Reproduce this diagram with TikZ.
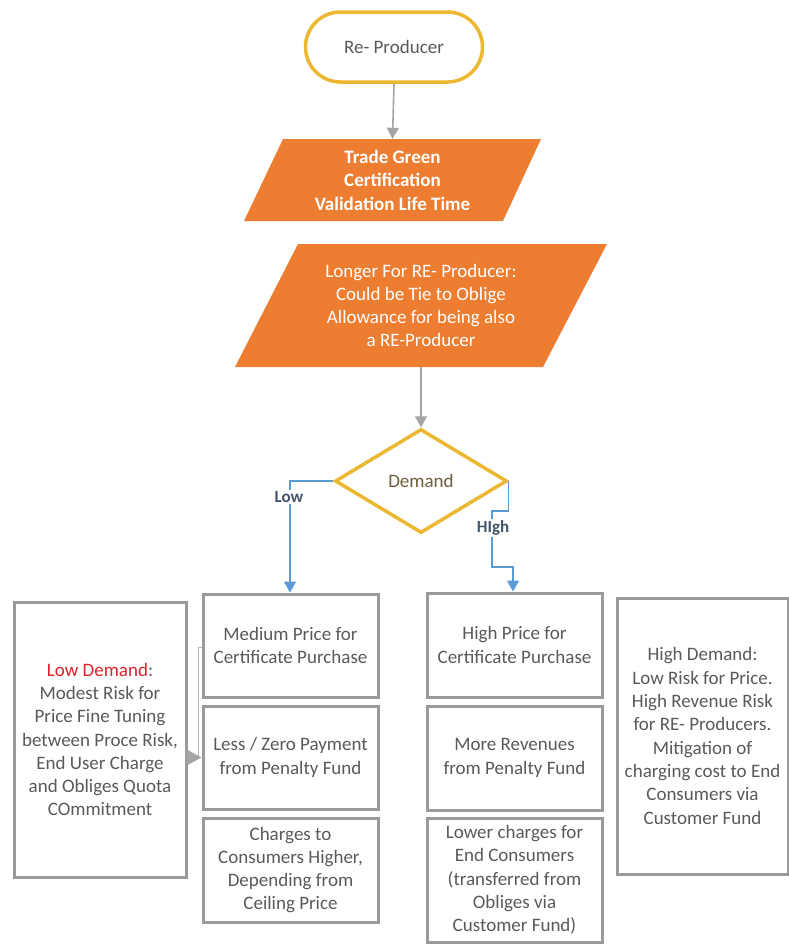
\documentclass[tikz,border=0pt]{standalone}
\usepackage{fontspec}
\setmainfont{Carlito}
\usetikzlibrary{arrows.meta,shapes.geometric}
\definecolor{goldline}{HTML}{EDB831}
\definecolor{orangefill}{HTML}{ED7D31}
\definecolor{boxline}{HTML}{9A9A9A}
\definecolor{boxtext}{HTML}{595959}
\definecolor{flowgray}{HTML}{A5A5A5}
\definecolor{flowblue}{HTML}{5B9BD5}
\definecolor{labelblue}{HTML}{44546A}
\definecolor{dectext}{HTML}{6B5E3A}
\definecolor{alertred}{HTML}{E0202A}
\tikzset{
  txt/.style={font=\fontsize{19}{23.3}\selectfont, align=center},
  terminal/.style={txt, draw=goldline, line width=3.5pt, rounded corners=35pt,
    minimum width=177pt, minimum height=70pt, text=boxtext, fill=white},
  paratext/.style={txt, text=white, inner sep=0pt},
  decision/.style={txt, diamond, draw=goldline, line width=3.5pt, aspect=1.65,
    minimum width=172pt, minimum height=104pt, inner sep=0pt, text=dectext},
  infobox/.style={txt, draw=boxline, line width=3pt, text=boxtext, inner sep=1pt},
  grayflow/.style={draw=flowgray, line width=1.6pt, -{Triangle[length=11pt,width=12pt]}},
  blueflow/.style={draw=flowblue, line width=1.3pt, -{Triangle[length=11pt,width=12pt]}},
  branchlabel/.style={font=\fontsize{17}{19}\selectfont\bfseries, text=labelblue,
    fill=white, inner sep=1.5pt},
  thinlink/.style={draw=boxline!70, line width=0.8pt,
    -{Triangle[length=15pt,width=16pt,color=flowgray]}}
}
\begin{document}
\begin{tikzpicture}[x=1pt,y=-1pt]
\useasboundingbox (0,0) rectangle (789,945);

% start terminal
\node[terminal] (start) at (394,47) {Re- Producer};

% input / output parallelograms
\fill[orangefill] (283,139) -- (541,139) -- (503,221) -- (244,221) -- cycle;
\node[paratext, minimum height=82pt, font=\fontsize{19}{23.5}\selectfont\bfseries]
  (trade) at (392.5,180) {Trade Green\\Certification\\Validation Life Time};

\fill[orangefill] (298,244) -- (607,244) -- (543,367) -- (235,367) -- cycle;
\node[paratext, minimum height=123pt] (longer) at (421,305.5)
  {Longer For RE- Producer:\\Could be Tie to Oblige\\Allowance for being also\\a RE-Producer};

% decision
\node[decision] (demand) at (421,481) {Demand};

% low demand column
\node[infobox, minimum width=175pt, minimum height=103pt]
  (medium) at (290.5,645.5) {Medium Price for\\Certificate Purchase};
\node[infobox, minimum width=175pt, minimum height=103pt]
  (lesszero) at (290.5,757.5) {Less / Zero Payment\\from Penalty Fund};
\node[infobox, minimum width=175pt, minimum height=104pt]
  (charges) at (290.5,870) {Charges to\\Consumers Higher,\\Depending from\\Ceiling Price};
\node[infobox, minimum width=172pt, minimum height=275pt]
  (lownote) at (100,739.5)
  {{\color{alertred}Low Demand}:\\Modest Risk for\\Price Fine Tuning\\between Proce Risk,\\End User Charge\\and Obliges Quota\\COmmitment};

% high demand column
\node[infobox, minimum width=175pt, minimum height=104pt]
  (highprice) at (514.5,645) {High Price for\\Certificate Purchase};
\node[infobox, minimum width=175pt, minimum height=104pt]
  (morerev) at (514.5,758) {More Revenues\\from Penalty Fund};
\node[infobox, minimum width=175pt, minimum height=124pt]
  (lower) at (514.5,880) {Lower charges for\\End Consumers\\(transferred from\\Obliges via\\Customer Fund)};
\node[infobox, minimum width=171pt, minimum height=276pt]
  (highnote) at (702.5,736)
  {High Demand:\\Low Risk for Price.\\High Revenue Risk\\for RE- Producers.\\Mitigation of\\charging cost to End\\Consumers via\\Customer Fund};

% main flow
\draw[grayflow] (start.south) -- (trade.north);
\draw[grayflow] (longer.south) -- (demand.north);

% branches
\coordinate (lowbend) at (290,481);
\draw[blueflow] (demand.west) -- (lowbend) -- (lowbend |- medium.north);
\node[branchlabel] (lowlbl) at (289,497) {Low};

\coordinate (hiA) at (506,511);
\coordinate (hiB) at (492,511);
\coordinate (hiC) at (492,567);
\coordinate (hiD) at (513,567);
\draw[blueflow] (demand.east) -- (demand.east |- hiA) -- (hiB) -- (hiC) -- (hiD)
  -- (hiD |- highprice.north);
\node[branchlabel] (highlbl) at (493,528) {HIgh};

% side link between the low-demand boxes
\coordinate (linkx) at (198,647);
\draw[thinlink] (medium.west |- linkx) -- (linkx) -- (linkx |- lesszero.west) -- (lesszero.west);
\end{tikzpicture}
\end{document}
